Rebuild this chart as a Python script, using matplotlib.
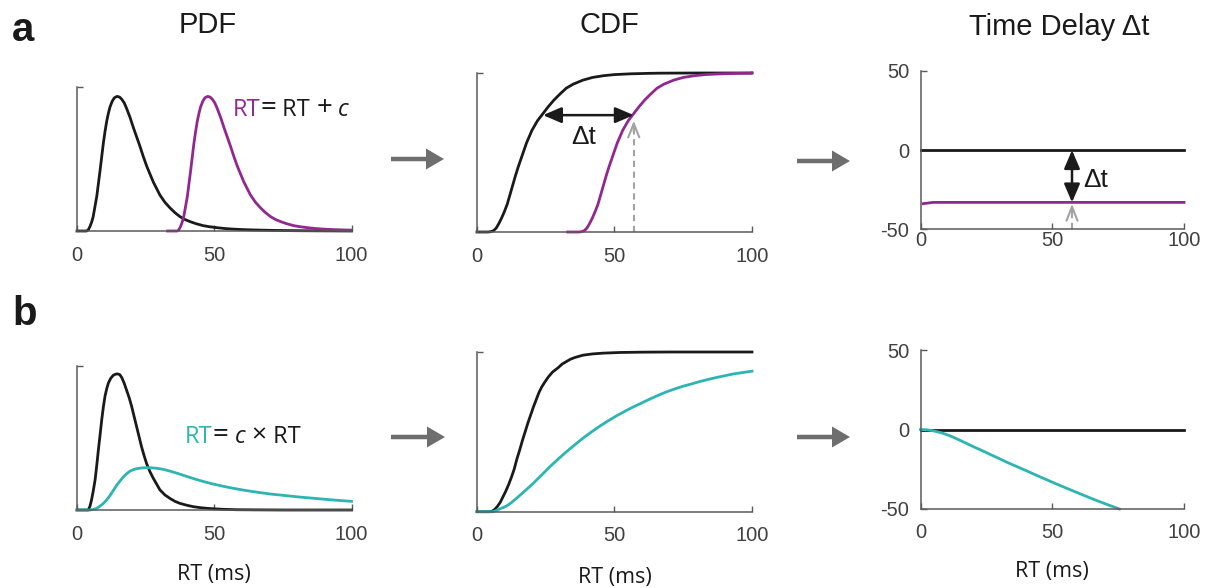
#!/usr/bin/env python3.12
"""
Two RT manipulations (shift and scale): PDF -> CDF -> time delay.
Values are read off the reference figure by eye.
"""

import matplotlib
matplotlib.use("Agg")
import matplotlib.pyplot as plt
from matplotlib.patches import FancyArrow

# =========================
# DATA
# =========================

# row a: baseline PDF, the shifted copy is the same curve moved by C_SHIFT
PDF_A_X = [0, 3.5, 4.1, 4.7, 5.3, 5.9, 6.5, 7.2, 7.8, 8.4, 9, 9.6, 10.2, 10.8, 11.4,
           12, 12.8, 13.6, 14.6, 15.5, 16.3, 17.2, 18.1, 19.3, 20.5, 21.7, 22.9, 24.1,
           25.4, 26.6, 27.8, 29, 30.2, 32, 33.9, 35.7, 37.5, 39.3, 41.2, 43.5, 46,
           48.5, 51, 54, 57, 60, 63, 67, 72, 81, 90, 100]
PDF_A_Y = [0, 0, 0.008, 0.03, 0.06, 0.10, 0.165, 0.24, 0.33, 0.42, 0.515, 0.61, 0.69,
           0.76, 0.815, 0.86, 0.90, 0.925, 0.935, 0.93, 0.915, 0.89, 0.85, 0.79, 0.72,
           0.655, 0.59, 0.52, 0.45, 0.395, 0.34, 0.295, 0.25, 0.20, 0.16, 0.127, 0.10,
           0.08, 0.065, 0.05, 0.037, 0.029, 0.023, 0.017, 0.013, 0.010, 0.008, 0.006,
           0.004, 0.002, 0.001, 0.0]

CDF_A_X = [0, 4, 5, 6, 7, 8, 9, 10, 11, 12, 13, 14, 15, 16, 17, 18, 19, 20, 22, 24,
           26, 28, 30, 32.5, 35, 38.5, 42, 46, 50, 56, 63, 67, 80, 100]
CDF_A_Y = [0, 0, 0.002, 0.008, 0.025, 0.055, 0.09, 0.13, 0.175, 0.235, 0.295, 0.355,
           0.41, 0.46, 0.51, 0.56, 0.60, 0.64, 0.70, 0.745, 0.79, 0.83, 0.865, 0.905,
           0.93, 0.955, 0.972, 0.983, 0.99, 0.995, 0.998, 0.999, 1.0, 1.0]

C_SHIFT = 33  # ms, RT' = RT + c

TD_A_X = [0, 100]
TD_A_BASE = [0, 0]
TD_A_SHIFT_X = [1, 4.8, 100]
TD_A_SHIFT_Y = [-33.8, -33, -33]

# row b: baseline and scaled PDFs
PDF_B_X = [0, 4.1, 4.7, 5.3, 5.9, 6.6, 7.2, 7.8, 8.4, 9, 9.6, 10.2, 10.8, 11.4, 12.3,
           13.2, 14, 14.8, 15.6, 16.3, 17.2, 18.1, 19, 19.9, 20.8, 21.7, 22.6, 23.5,
           24.4, 25.4, 26.6, 27.8, 29, 30.2, 32, 33.9, 35.7, 37.5, 40, 42.4, 45, 48.4,
           53, 58, 65, 75, 100]
PDF_B_Y = [0, 0, 0.025, 0.07, 0.13, 0.21, 0.31, 0.42, 0.52, 0.625, 0.715, 0.79, 0.84,
           0.88, 0.915, 0.935, 0.943, 0.945, 0.94, 0.92, 0.88, 0.83, 0.78, 0.72, 0.65,
           0.58, 0.51, 0.44, 0.38, 0.32, 0.265, 0.22, 0.18, 0.14, 0.105, 0.08, 0.06,
           0.046, 0.033, 0.023, 0.016, 0.01, 0.005, 0.002, 0.001, 0, 0]

PDF_B_SCALED_X = [0, 4.7, 6, 7.2, 8.4, 9.6, 10.8, 12, 13.2, 14.4, 15.6, 16.9, 18.1,
                  19.3, 20.5, 21.7, 23.5, 25.4, 27, 29, 31.5, 33.9, 37, 40, 43, 46, 49,
                  52, 55, 58, 61, 64, 67, 70, 75, 81, 87, 93, 100]
PDF_B_SCALED_Y = [0, 0, 0.004, 0.012, 0.027, 0.046, 0.07, 0.10, 0.135, 0.17, 0.20,
                  0.23, 0.252, 0.27, 0.28, 0.287, 0.292, 0.294, 0.293, 0.29, 0.282,
                  0.27, 0.252, 0.233, 0.215, 0.198, 0.183, 0.17, 0.158, 0.147, 0.137,
                  0.128, 0.12, 0.112, 0.102, 0.09, 0.08, 0.07, 0.06]

CDF_B_X = [0, 4.5, 5.5, 6.5, 7.5, 8.5, 9.5, 10.5, 11.5, 12.5, 13.5, 14.5, 15.5, 16.5,
           17.5, 18.5, 19.5, 20.5, 21.5, 22.5, 23.5, 24.6, 26, 27.5, 29.4, 31, 32.5,
           34, 35.5, 38.5, 42, 46, 52, 60, 70, 100]
CDF_B_Y = [0, 0, 0.003, 0.015, 0.035, 0.06, 0.095, 0.13, 0.17, 0.215, 0.265, 0.33,
           0.385, 0.445, 0.50, 0.555, 0.605, 0.655, 0.70, 0.745, 0.78, 0.81, 0.845,
           0.875, 0.90, 0.925, 0.94, 0.955, 0.965, 0.98, 0.988, 0.993, 0.997, 0.999,
           1.0, 1.0]

CDF_B_SCALED_X = [0, 5.8, 7, 8.2, 9.5, 10.7, 12.5, 14.3, 17.3, 20.4, 23.4, 26.4, 29.4,
                  32.5, 35.5, 38.5, 41.5, 44.6, 47.6, 50.7, 53.7, 56.7, 59.8, 62.8,
                  65.8, 68.8, 71.8, 74.8, 78, 81, 84, 87, 90, 93, 96.5, 100]
CDF_B_SCALED_Y = [0, 0, 0.007, 0.017, 0.026, 0.035, 0.057, 0.083, 0.128, 0.177, 0.228,
                  0.28, 0.328, 0.375, 0.418, 0.46, 0.498, 0.535, 0.568, 0.60, 0.628,
                  0.655, 0.68, 0.705, 0.728, 0.75, 0.768, 0.785, 0.80, 0.815, 0.828,
                  0.84, 0.851, 0.862, 0.871, 0.88]

TD_B_X = [0, 2.5, 4.8, 8, 11.1, 14.2, 17.4, 20.6, 23.8, 27, 30.1, 33.2, 36.4, 39.6,
          42.7, 45.8, 49, 52.2, 55.4, 58.6, 61.7, 64.8, 68, 71.7, 75.5]
TD_B_Y = [0, -0.2, -0.8, -2.1, -3.9, -6.2, -8.7, -11.2, -13.6, -16.1, -18.5, -20.9,
          -23.2, -25.5, -27.8, -30.1, -32.4, -34.7, -36.9, -39.1, -41.2, -43.3, -45.4,
          -47.7, -50]

# annotation anchors (ms / CDF level)
DT_LEVEL = 0.735
DT_X_BLACK = 24
PROBE_X = 57.5

X_TICKS = [0, 50, 100]
TD_TICKS = [-50, 0, 50]

# =========================
# STYLE
# =========================
BLACK = "#1a1a1a"
PURPLE = "#92278f"
TEAL = "#2cb5b3"
AXIS_GRAY = "#5a5a5a"
ARROW_GRAY = "#6e6e6e"
DASH_GRAY = "#a3a3a3"
LW = 2.0

W, H = 1206, 588
SANS = ["Liberation Sans", "DejaVu Sans"]
LABEL_FONT = ["Open Sans", "DejaVu Sans"]

plt.rcParams["font.family"] = SANS
plt.rcParams["axes.unicode_minus"] = False


def px_axes(fig, left, top, right, bottom):
    return fig.add_axes([left / W, 1 - bottom / H, (right - left) / W, (bottom - top) / H])


def style_axes(ax, ylim, yticks, ylabels, xpad):
    ax.set_xlim(0, 100)
    ax.set_ylim(*ylim)
    for side in ("top", "right"):
        ax.spines[side].set_visible(False)
    for side in ("left", "bottom"):
        ax.spines[side].set_color(AXIS_GRAY)
        ax.spines[side].set_linewidth(1.1)
    ax.set_xticks(X_TICKS)
    ax.set_xticklabels([str(t) for t in X_TICKS])
    ax.set_yticks(yticks)
    ax.set_yticklabels(ylabels)
    ax.tick_params(direction="in", length=4, width=1.0, color=AXIS_GRAY,
                   labelcolor="#404040", labelsize=14.5)
    ax.tick_params(axis="x", pad=xpad)
    ax.tick_params(axis="y", pad=8)
    ax.patch.set_alpha(0)


def chain_text(ax, x, y, pieces):
    """Write coloured / italic pieces one after another on the same line."""
    prev = None
    for text, color, style, size in pieces:
        if prev is None:
            prev = ax.text(x, y, text, color=color, style=style, fontsize=size,
                           family=LABEL_FONT, va="center", ha="left")
        else:
            prev = ax.annotate(text, xy=(1, 0), xycoords=prev, color=color,
                               style=style, fontsize=size, family=LABEL_FONT,
                               va="bottom", ha="left")


def probe_arrow(ax, x, y0, tip, span):
    ax.plot([x, x], [y0, tip - span * 0.03], color=DASH_GRAY, lw=1.5,
            dashes=(3, 2.2), solid_capstyle="butt")
    ax.annotate("", xy=(x, tip), xytext=(x, tip - span * 0.07),
                arrowprops=dict(arrowstyle="->,head_length=0.5,head_width=0.2",
                                color=DASH_GRAY, lw=1.5, shrinkA=0, shrinkB=0,
                                mutation_scale=20))


def double_arrow(ax, p0, p1):
    ax.annotate("", xy=p1, xytext=p0,
                arrowprops=dict(arrowstyle="<|-|>,head_length=0.7,head_width=0.3",
                                color=BLACK, lw=1.8, shrinkA=0, shrinkB=0,
                                mutation_scale=16))


def main() -> None:
    fig = plt.figure(figsize=(W / 100, H / 100), dpi=100)

    # ---------- row a ----------
    ax = px_axes(fig, 77, 87, 351.5, 231)
    ax.plot(PDF_A_X, PDF_A_Y, color=BLACK, lw=LW, clip_on=False)
    xs = [x + C_SHIFT for x in PDF_A_X if x + C_SHIFT <= 100]
    ys = [y for x, y in zip(PDF_A_X, PDF_A_Y) if x + C_SHIFT <= 100]
    ax.plot(xs, ys, color=PURPLE, lw=LW, clip_on=False)
    style_axes(ax, (0, 1), [1], [""], 11)
    chain_text(ax, 56.8, 0.84, [("RT", PURPLE, "normal", 17),
                                ("=", BLACK, "normal", 20),
                                (" RT ", BLACK, "normal", 17),
                                ("+", BLACK, "normal", 20),
                                (" ", BLACK, "normal", 17),
                                ("c", BLACK, "italic", 17)])

    ax = px_axes(fig, 477, 73, 752, 232)
    ax.plot(CDF_A_X, CDF_A_Y, color=BLACK, lw=LW, clip_on=False)
    xs = [x + C_SHIFT for x in CDF_A_X if x + C_SHIFT <= 100]
    ys = [y for x, y in zip(CDF_A_X, CDF_A_Y) if x + C_SHIFT <= 100]
    ax.plot(xs + [100], ys + [1.0], color=PURPLE, lw=LW, clip_on=False)
    style_axes(ax, (0, 1), [1], [""], 11)
    probe_arrow(ax, DT_X_BLACK + C_SHIFT, 0, DT_LEVEL - 0.035, 1.0)
    double_arrow(ax, (DT_X_BLACK, DT_LEVEL), (DT_X_BLACK + C_SHIFT, DT_LEVEL))
    ax.text(34.4, 0.60, "Δt", fontsize=19, color=BLACK, va="center", ha="left")

    ax = px_axes(fig, 920.5, 71, 1184, 229.3)
    ax.plot(TD_A_X, TD_A_BASE, color=BLACK, lw=LW, clip_on=False)
    ax.plot(TD_A_SHIFT_X, TD_A_SHIFT_Y, color=PURPLE, lw=LW, clip_on=False)
    style_axes(ax, (-50, 50), TD_TICKS, [str(t) for t in TD_TICKS], 1)
    probe_arrow(ax, PROBE_X, -50, -34, 100)
    double_arrow(ax, (PROBE_X, 0), (PROBE_X, -C_SHIFT))
    ax.text(61.7, -19, "Δt", fontsize=19, color=BLACK, va="center", ha="left")

    # ---------- row b ----------
    ax = px_axes(fig, 77, 366, 351.5, 510)
    ax.plot(PDF_B_X, PDF_B_Y, color=BLACK, lw=LW, clip_on=False)
    ax.plot(PDF_B_SCALED_X, PDF_B_SCALED_Y, color=TEAL, lw=LW, clip_on=False)
    style_axes(ax, (0, 1), [1], [""], 11)
    chain_text(ax, 39.3, 0.51, [("RT", TEAL, "normal", 17),
                                ("=", BLACK, "normal", 20),
                                (" ", BLACK, "normal", 17),
                                ("c", BLACK, "italic", 17),
                                (" ", BLACK, "normal", 17),
                                ("×", BLACK, "normal", 19),
                                (" RT", BLACK, "normal", 17)])
    ax.set_xlabel("RT (ms)", family=LABEL_FONT, fontsize=15.5, color=BLACK, labelpad=14)

    ax = px_axes(fig, 477, 352, 752, 511.7)
    ax.plot(CDF_B_X, CDF_B_Y, color=BLACK, lw=LW, clip_on=False)
    ax.plot(CDF_B_SCALED_X, CDF_B_SCALED_Y, color=TEAL, lw=LW, clip_on=False)
    style_axes(ax, (0, 1), [1], [""], 10)
    ax.set_xlabel("RT (ms)", family=LABEL_FONT, fontsize=15.5, color=BLACK, labelpad=16)

    ax = px_axes(fig, 920.5, 350, 1184, 509)
    ax.plot(TD_A_X, TD_A_BASE, color=BLACK, lw=LW, clip_on=False)
    ax.plot(TD_B_X, TD_B_Y, color=TEAL, lw=LW, clip_on=False)
    style_axes(ax, (-50, 50), TD_TICKS, [str(t) for t in TD_TICKS], 10)
    ax.set_xlabel("RT (ms)", family=LABEL_FONT, fontsize=15.5, color=BLACK, labelpad=14)

    # ---------- titles and panel letters ----------
    fig.text(208 / W, 1 - 25 / H, "PDF", fontsize=21, ha="center", va="center", color=BLACK)
    fig.text(609 / W, 1 - 25 / H, "CDF", fontsize=21, ha="center", va="center", color=BLACK)
    fig.text(1059 / W, 1 - 27 / H, "Time Delay Δt", fontsize=21, ha="center",
             va="center", color=BLACK)
    fig.text(12 / W, 1 - 30 / H, "a", fontsize=29, weight="bold", ha="left",
             va="center", color=BLACK)
    fig.text(12 / W, 1 - 314 / H, "b", fontsize=29, weight="bold", ha="left",
             va="center", color=BLACK)

    # ---------- grey flow arrows between panels ----------
    for x0, x1, yc in [(391, 444, 159), (797, 850, 161), (391, 445, 437), (797, 850, 437)]:
        fig.patches.append(FancyArrow(
            x0 / 100, (H - yc) / 100, (x1 - x0) / 100, 0, width=0.045,
            head_width=0.21, head_length=0.18, length_includes_head=True,
            color=ARROW_GRAY, lw=0, transform=fig.dpi_scale_trans))

    fig.savefig("out.png", dpi=100)


if __name__ == "__main__":
    main()
